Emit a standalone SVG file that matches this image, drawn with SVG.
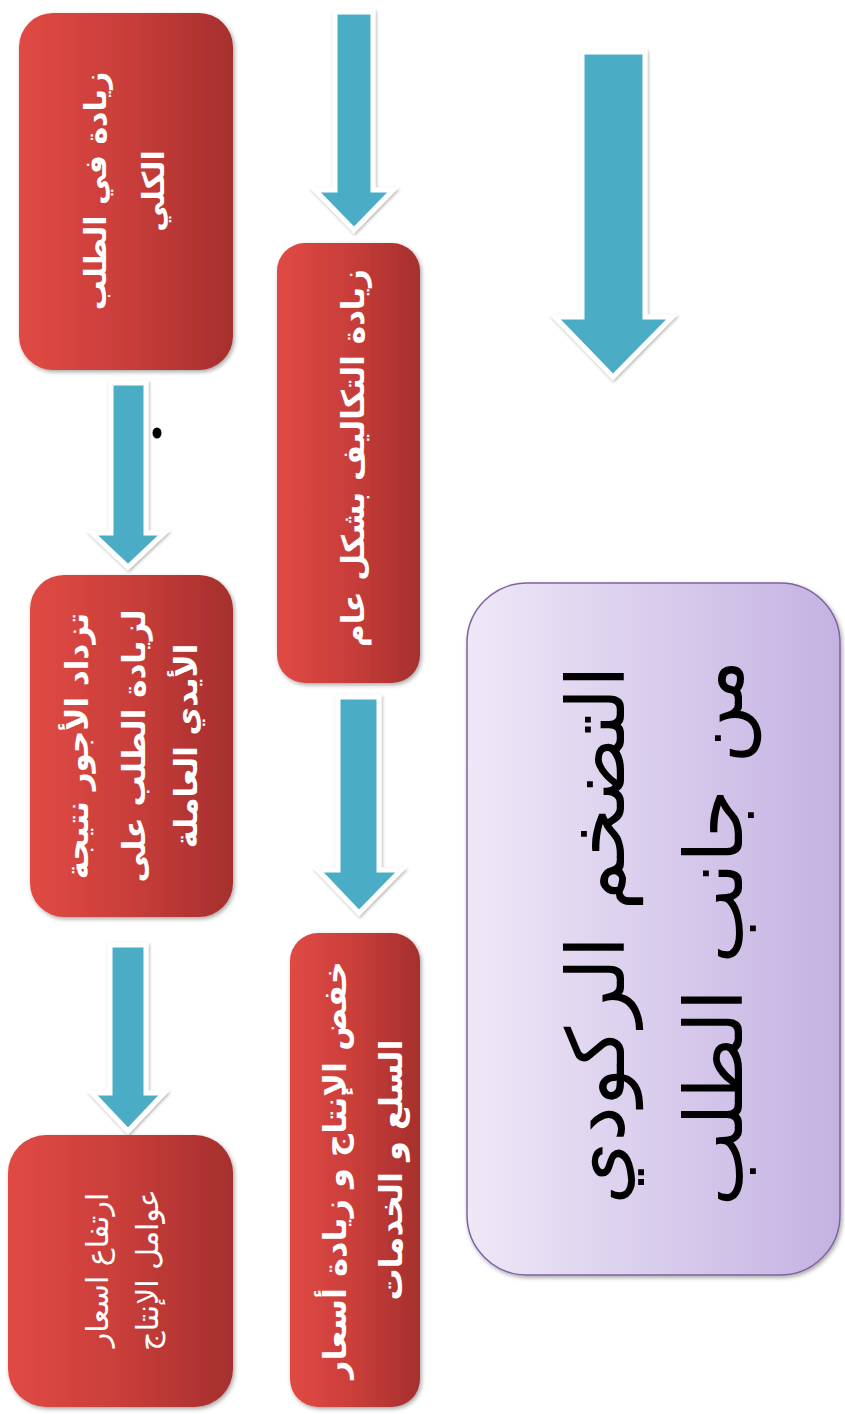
<svg xmlns="http://www.w3.org/2000/svg" width="845" height="1414" viewBox="0 0 845 1414">
  <defs>
    <linearGradient id="redFill" x1="0" y1="0" x2="1" y2="0">
      <stop offset="0" stop-color="#E04A44"/>
      <stop offset="0.5" stop-color="#C93E3A"/>
      <stop offset="1" stop-color="#A52F2D"/>
    </linearGradient>
    <linearGradient id="lilacFill" x1="0" y1="0" x2="1" y2="0">
      <stop offset="0" stop-color="#EEE8F7"/>
      <stop offset="1" stop-color="#C4B2E2"/>
    </linearGradient>
    <filter id="boxShadow" x="-10%" y="-10%" width="120%" height="120%">
      <feDropShadow dx="1.5" dy="2" stdDeviation="2" flood-color="#000" flood-opacity="0.35"/>
    </filter>
    <filter id="arrowShadow" x="-20%" y="-10%" width="140%" height="120%">
      <feDropShadow dx="1" dy="1.5" stdDeviation="1.5" flood-color="#000" flood-opacity="0.3"/>
    </filter>
    <style>
      .box { fill: url(#redFill); filter: url(#boxShadow); }
      .title-box { fill: url(#lilacFill); stroke: #7F63A1; stroke-width: 1.5; filter: url(#boxShadow); }
      .arrow { fill: #4BACC6; stroke: #FFFFFF; stroke-width: 5; stroke-linejoin: miter; filter: url(#arrowShadow); }
      .lbl { font-family: "DejaVu Sans", sans-serif; fill: #FFFFFF; font-weight: bold; text-anchor: middle; }
      .lbl-reg { font-family: "DejaVu Sans", sans-serif; fill: #FFFFFF; font-weight: normal; text-anchor: middle; }
      .ttl { font-family: "DejaVu Sans", sans-serif; fill: #000000; text-anchor: middle; }
    </style>
  </defs>

  <!-- block arrows -->
  <g id="connectors">
    <polygon class="arrow" points="335,12 373,12 373,190 393,190 354,230 315,190 335,190"/>
    <polygon class="arrow" points="582,52 645,52 645,317 672,317 613,377 555,317 582,317"/>
    <polygon class="arrow" points="111,383 146,383 146,533 164,533 128,567 92,533 111,533"/>
    <polygon class="arrow" points="338,697 379,697 379,870 401,870 359,913 318,870 338,870"/>
    <polygon class="arrow" points="110,945 146,945 146,1093 164,1093 128,1131 92,1093 110,1093"/>
  </g>

  <ellipse cx="157" cy="433" rx="4.5" ry="5.5" fill="#000"/>

  <g id="node-demand">
    <rect class="box" x="19" y="13" width="214" height="357" rx="34"/>
    <text class="lbl" font-size="30" transform="translate(106,191) rotate(-90)">زيادة في الطلب</text>
    <text class="lbl" font-size="30" transform="translate(164,191) rotate(-90)">الكلي</text>
  </g>

  <g id="node-costs">
    <rect class="box" x="277" y="243" width="143" height="440" rx="28"/>
    <text class="lbl" font-size="31" transform="translate(364,458) rotate(-90)">زيادة التكاليف بشكل عام</text>
  </g>

  <g id="node-wages">
    <rect class="box" x="30" y="575" width="203" height="342" rx="34"/>
    <text class="lbl" font-size="31" transform="translate(88,746) rotate(-90)">تزداد الأجور نتيجة</text>
    <text class="lbl" font-size="31" transform="translate(145,746) rotate(-90)">لزيادة الطلب على</text>
    <text class="lbl" font-size="31" transform="translate(197,746) rotate(-90)">الأيدي العاملة</text>
  </g>

  <g id="node-output">
    <rect class="box" x="290" y="933" width="130" height="474" rx="28"/>
    <text class="lbl" font-size="32" transform="translate(346,1170) rotate(-90)">خفض الإنتاج و زيادة أسعار</text>
    <text class="lbl" font-size="32" transform="translate(402,1170) rotate(-90)">السلع و الخدمات</text>
  </g>

  <g id="node-factors">
    <rect class="box" x="8" y="1135" width="225" height="272" rx="38"/>
    <text class="lbl-reg" font-size="30" transform="translate(108,1270) rotate(-90)">ارتفاع اسعار</text>
    <text class="lbl-reg" font-size="30" transform="translate(158,1270) rotate(-90)">عوامل الإنتاج</text>
  </g>

  <g id="node-title">
    <rect class="title-box" x="467" y="583" width="373" height="692" rx="60"/>
    <text class="ttl" font-size="80" transform="translate(624,935) rotate(-90)">التضخم الركودي</text>
    <text class="ttl" font-size="80" transform="translate(742,933) rotate(-90)">من جانب الطلب</text>
  </g>
</svg>
